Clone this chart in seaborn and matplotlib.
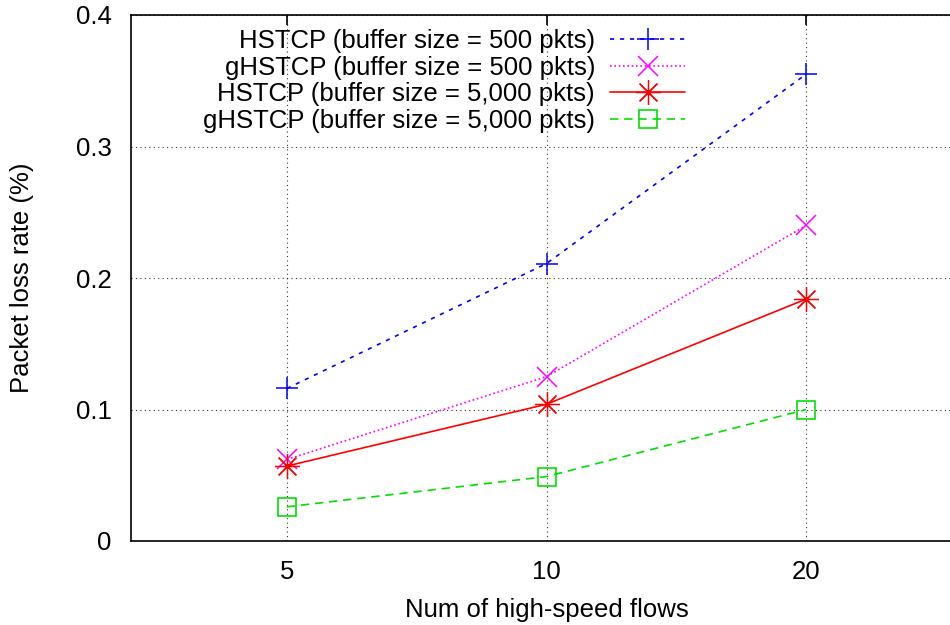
import matplotlib
matplotlib.use("Agg")
import matplotlib.pyplot as plt
import seaborn as sns
import pandas as pd

# Number of high-speed flows (equally spaced categories)
flows = ["5", "10", "20"]

hstcp_500 = [0.116, 0.211, 0.355]
ghstcp_500 = [0.062, 0.125, 0.240]
hstcp_5000 = [0.057, 0.104, 0.184]
ghstcp_5000 = [0.026, 0.049, 0.100]

labels = [
    "HSTCP (buffer size = 500 pkts)",
    "gHSTCP (buffer size = 500 pkts)",
    "HSTCP (buffer size = 5,000 pkts)",
    "gHSTCP (buffer size = 5,000 pkts)",
]
series = [hstcp_500, ghstcp_500, hstcp_5000, ghstcp_5000]

sns.set_style("white")
plt.rcParams["font.family"] = ["Liberation Sans", "DejaVu Sans"]
plt.rcParams["text.color"] = "black"
plt.rcParams["axes.labelcolor"] = "black"
plt.rcParams["xtick.color"] = "black"
plt.rcParams["ytick.color"] = "black"

FS = 18.5

fig = plt.figure(figsize=(9.5, 6.25), dpi=100)
W, H = 950, 625
left, right, top, bottom = 131, 962, 15, 541
ax = fig.add_axes([left / W, 1 - bottom / H, (right - left) / W, (bottom - top) / H])

styles = [
    dict(color="#0000ff", marker="+", ms=16, mew=1.1, ls=(0, (2.5, 3.5)), lw=1.2),
    dict(color="#ff00ff", marker="x", ms=14, mew=1.1, ls=(0, (1, 1.6)), lw=1.2),
    dict(color="#ff0000", marker=(8, 2, 0), ms=18, mew=0.9, ls="-", lw=1.2),
    dict(color="#00e000", marker="s", ms=13, mew=1.2, mfc="none", ls=(0, (5, 3.5)), lw=1.2),
]

for lab, vals, st in zip(labels, series, styles):
    df = pd.DataFrame({"pos": range(len(flows)), "loss": vals})
    sns.lineplot(data=df, x="pos", y="loss", ax=ax, label=lab,
                 color=st["color"], marker=st["marker"], markersize=st["ms"],
                 markeredgewidth=st["mew"], markeredgecolor=st["color"],
                 markerfacecolor=st.get("mfc", st["color"]),
                 linestyle=st["ls"], linewidth=st["lw"])

ax.set_xlim(-0.6, 2.6)
ax.set_ylim(0, 0.4)
ax.set_xticks(range(len(flows)))
ax.set_xticklabels(flows)
ax.set_yticks([0, 0.1, 0.2, 0.3, 0.4])
ax.set_yticklabels(["0", "0.1", "0.2", "0.3", "0.4"])
ax.grid(True, color="black", linestyle=(0, (1, 3)), linewidth=0.8, alpha=0.8)
ax.tick_params(direction="in", length=7, width=1.2, top=True, right=True,
               labelsize=FS, colors="black")
ax.tick_params(axis="y", pad=14)
ax.tick_params(axis="x", pad=14)
for s in ax.spines.values():
    s.set_visible(True)
    s.set_color("black")
    s.set_linewidth(1.2)

ax.set_xlabel("Num of high-speed flows", fontsize=FS, labelpad=10, color="black")
ax.set_ylabel("Packet loss rate (%)", fontsize=FS, labelpad=30, color="black")

leg = ax.legend(loc="upper right", bbox_to_anchor=(685 / W, 1 - 29 / H),
                bbox_transform=fig.transFigure, frameon=False, markerfirst=False,
                fontsize=FS, handlelength=2.9, handletextpad=0.6,
                labelspacing=0.1, borderpad=0, borderaxespad=0)
for t in leg.get_texts():
    t.set_color("black")

fig.savefig("out.png", dpi=100)
